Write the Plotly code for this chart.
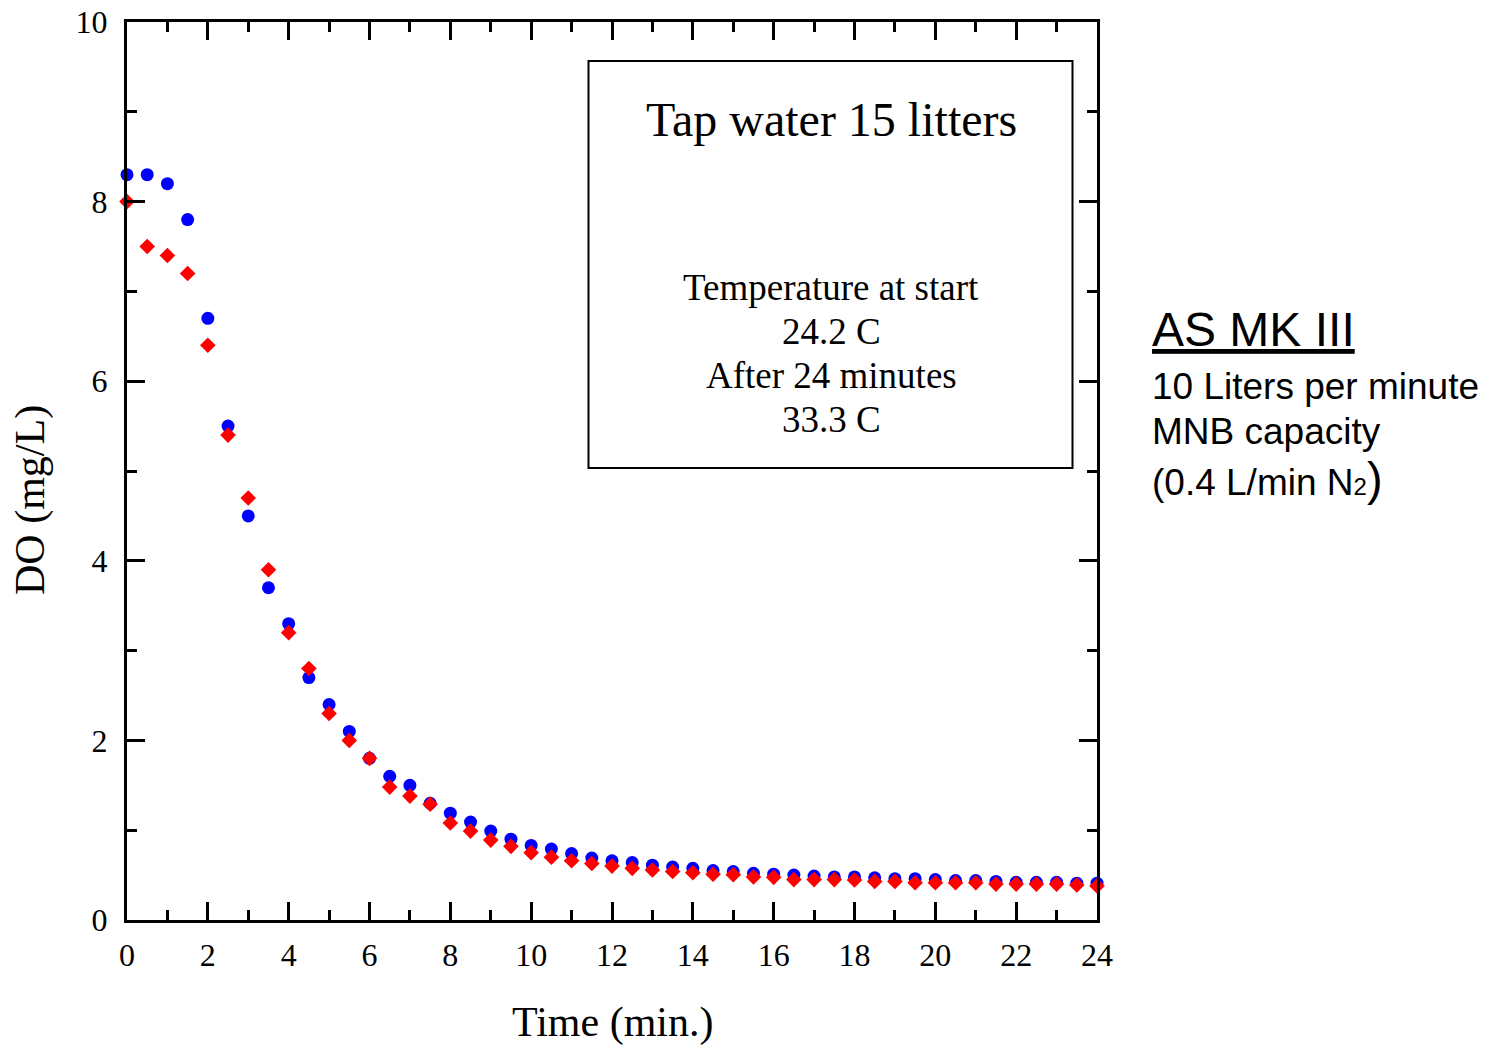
import plotly.graph_objects as go

time_min = [i * 0.5 for i in range(49)]

do_blue = [8.3, 8.3, 8.2, 7.8, 6.7, 5.5, 4.5, 3.7, 3.3, 2.7,
           2.4, 2.1, 1.8, 1.6, 1.5, 1.3, 1.19, 1.09, 0.99, 0.9,
           0.83, 0.79, 0.74, 0.69, 0.66, 0.64, 0.61, 0.59, 0.575, 0.55,
           0.54, 0.52, 0.51, 0.50, 0.49, 0.48, 0.48, 0.47, 0.46, 0.46,
           0.45, 0.44, 0.44, 0.43, 0.42, 0.42, 0.42, 0.41, 0.41]

do_red = [8.0, 7.5, 7.4, 7.2, 6.4, 5.4, 4.7, 3.9, 3.2, 2.8,
          2.3, 2.0, 1.8, 1.48, 1.38, 1.29, 1.08, 0.99, 0.89, 0.82,
          0.75, 0.70, 0.66, 0.63, 0.60, 0.575, 0.557, 0.54, 0.527, 0.51,
          0.505, 0.48, 0.475, 0.45, 0.45, 0.45, 0.445, 0.43, 0.43, 0.415,
          0.415, 0.415, 0.415, 0.40, 0.40, 0.40, 0.40, 0.39, 0.38]

x_ticks = [0, 2, 4, 6, 8, 10, 12, 14, 16, 18, 20, 22, 24]
y_ticks = [0, 2, 4, 6, 8, 10]

SERIF = "Liberation Serif, Times New Roman, serif"
SANS = "Liberation Sans, Arial, sans-serif"

fig = go.Figure()
fig.add_trace(go.Scatter(x=time_min, y=do_blue, mode="markers",
                         marker=dict(symbol="circle", size=13, color="#0000FF"),
                         cliponaxis=False, showlegend=False))
fig.add_trace(go.Scatter(x=time_min, y=do_red, mode="markers",
                         marker=dict(symbol="diamond", size=12, color="#FF0000"),
                         cliponaxis=False, showlegend=False))

axis_common = dict(
    showline=True, linewidth=3, linecolor="black", mirror="allticks",
    ticks="inside", ticklen=18, tickwidth=3, tickcolor="black",
    showgrid=False, zeroline=False, automargin=False,
    tickfont=dict(family=SERIF, size=32, color="black"),
)

fig.update_xaxes(range=[0, 24], tickmode="array", tickvals=x_ticks,
                 ticktext=[str(v) for v in x_ticks],
                 minor=dict(dtick=1, ticks="inside", ticklen=10, tickwidth=3, tickcolor="black"),
                 ticklabelstandoff=5,
                 **axis_common)
fig.update_yaxes(range=[0, 10], tickmode="array", tickvals=y_ticks,
                 ticktext=[str(v) for v in y_ticks],
                 minor=dict(dtick=1, ticks="inside", ticklen=10, tickwidth=3, tickcolor="black"),
                 ticklabelstandoff=10,
                 **axis_common)

L, R, T, B = 127, 402, 22, 125
W, H = 1499, 1045
pw, ph = W - L - R, H - T - B

def px(xp):
    return (xp - L) / pw

def py(yp):
    return (H - B - yp) / ph

anns = []
# axis titles
anns.append(dict(text="Time (min.)", x=px(612), y=py(1022), xref="paper", yref="paper",
                 showarrow=False, xanchor="center", yanchor="middle",
                 font=dict(family=SERIF, size=42, color="black")))
anns.append(dict(text="DO (mg/L)", x=px(30), y=py(500), xref="paper", yref="paper",
                 showarrow=False, xanchor="center", yanchor="middle", textangle=-90,
                 font=dict(family=SERIF, size=42, color="black")))
# box text
anns.append(dict(text="Tap water 15 litters", x=px(831), y=py(120), xref="paper", yref="paper",
                 showarrow=False, xanchor="center", yanchor="middle",
                 font=dict(family=SERIF, size=48, color="black")))
for txt, yy in [("Temperature at start", 287), ("24.2 C", 331),
                ("After 24 minutes", 375), ("33.3 C", 419)]:
    anns.append(dict(text=txt, x=px(831), y=py(yy), xref="paper", yref="paper",
                     showarrow=False, xanchor="center", yanchor="middle",
                     font=dict(family=SERIF, size=37, color="black")))
# right-side text
anns.append(dict(text="<u>AS MK III</u>", x=px(1150), y=py(329), xref="paper", yref="paper",
                 showarrow=False, xanchor="left", yanchor="middle",
                 font=dict(family=SANS, size=48, color="black")))
for txt, yy in [("10 Liters per minute", 386), ("MNB capacity", 431)]:
    anns.append(dict(text=txt, x=px(1150), y=py(yy), xref="paper", yref="paper",
                     showarrow=False, xanchor="left", yanchor="middle",
                     font=dict(family=SANS, size=37, color="black")))
anns.append(dict(text="(0.4 L/min N<span style=\"font-size:24px\">2</span><span style=\"font-size:47px\">)</span>",
                 x=px(1150), y=py(478), xref="paper", yref="paper",
                 showarrow=False, xanchor="left", yanchor="middle",
                 font=dict(family=SANS, size=37, color="black")))

fig.update_layout(
    width=W, height=H, autosize=False,
    margin=dict(l=L, r=R, t=T, b=B, pad=0, autoexpand=False),
    plot_bgcolor="white", paper_bgcolor="white",
    annotations=anns,
    shapes=[dict(type="rect", xref="paper", yref="paper",
                 x0=px(588.5), x1=px(1072.5), y0=py(468), y1=py(61),
                 line=dict(color="black", width=2), fillcolor="rgba(0,0,0,0)")],
)

post = ("document.body.style.margin='0';document.body.style.padding='0';"
        "var gd=document.getElementById('{plot_id}');"
        "gd.style.position='absolute';gd.style.left='0px';gd.style.top='0px';")
fig.write_html("out.html", post_script=post, config={"displayModeBar": False})
